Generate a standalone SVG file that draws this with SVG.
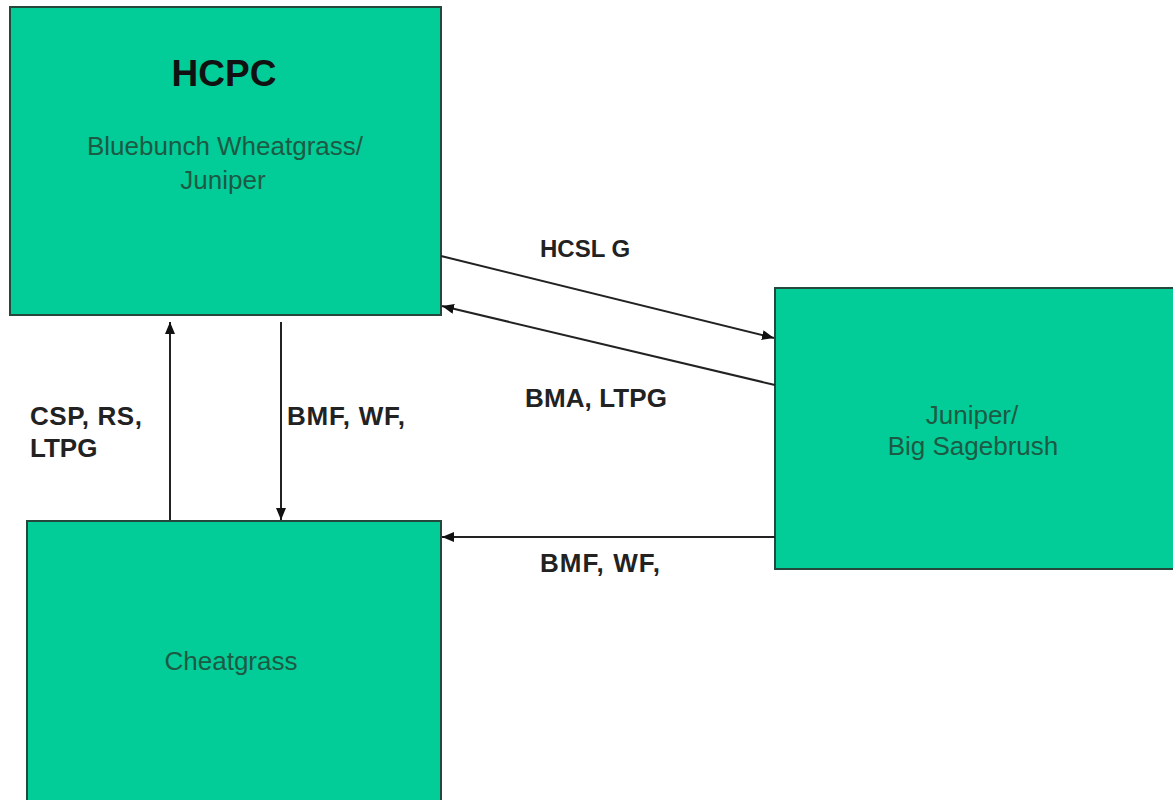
<svg xmlns="http://www.w3.org/2000/svg" width="1173" height="800" viewBox="0 0 1173 800">
<style>
.box{fill:#02cc98;stroke:#24483c;stroke-width:2}
.ntxt{font-family:"Liberation Sans",Arial,sans-serif;font-size:26px;fill:#1d5a44;text-anchor:middle}
.title{font-family:"Liberation Sans",Arial,sans-serif;font-size:37px;font-weight:bold;fill:#111;text-anchor:middle}
.lbl{font-family:"Liberation Sans",Arial,sans-serif;font-size:26px;font-weight:bold;fill:#222}
.conn{stroke:#222;stroke-width:2;fill:none;marker-end:url(#ah)}
</style>
<defs>
<marker id="ah" viewBox="0 0 12 10" refX="12" refY="5" markerWidth="12" markerHeight="10" markerUnits="userSpaceOnUse" orient="auto">
<path d="M0,0 L12,5 L0,10 z" fill="#111"/>
</marker>
</defs>
<rect width="1173" height="800" fill="#fff"/>
<g id="hcpc">
<rect class="box" x="10" y="7" width="431" height="308"/>
<text class="title" x="224" y="86">HCPC</text>
<text class="ntxt" x="225" y="155">Bluebunch Wheatgrass/</text>
<text class="ntxt" x="223" y="189">Juniper</text>
</g>
<g id="juniper">
<rect class="box" x="775" y="288" width="400" height="281"/>
<text class="ntxt" x="972" y="424">Juniper/</text>
<text class="ntxt" x="973" y="455">Big Sagebrush</text>
</g>
<g id="cheatgrass">
<rect class="box" x="27" y="521" width="414" height="290"/>
<text class="ntxt" x="231" y="670">Cheatgrass</text>
</g>
<g id="connectors">
<line class="conn" x1="441" y1="256" x2="774" y2="338"/>
<line class="conn" x1="775" y1="385" x2="442" y2="306"/>
<line class="conn" x1="170" y1="520" x2="170" y2="322"/>
<line class="conn" x1="281" y1="322" x2="281" y2="520"/>
<line class="conn" x1="775" y1="537" x2="442" y2="537"/>
</g>
<g id="labels">
<text class="lbl" x="540" y="257" style="font-size:24px">HCSL G</text>
<text class="lbl" x="525" y="407" textLength="142">BMA, LTPG</text>
<text class="lbl" x="30" y="425" textLength="112">CSP, RS,</text>
<text class="lbl" x="30" y="457">LTPG</text>
<text class="lbl" x="287" y="425" textLength="118">BMF, WF,</text>
<text class="lbl" x="540" y="572" textLength="120">BMF, WF,</text>
</g>
</svg>
